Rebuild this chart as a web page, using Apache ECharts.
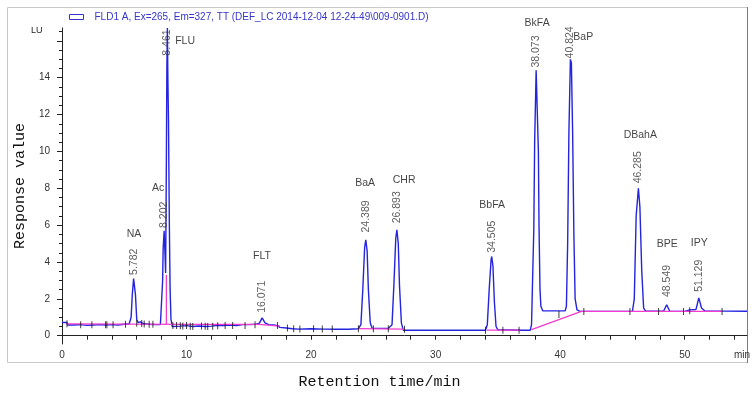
<!DOCTYPE html>
<html><head><meta charset="utf-8">
<script src="https://cdn.jsdelivr.net/npm/echarts@6/dist/echarts.min.js"></script>
<style>html,body{margin:0;padding:0;background:#fff}#c{width:754px;height:403px}</style>
</head><body><div id="c"></div><script>
// ---- chromatogram trace (time in min, response in LU) ----
const signalTime = [0,0.4,0.45,1.0,1.5,2.0,2.5,3.0,3.5,4.0,4.5,5.0,5.4,5.55,5.65,5.75,5.8,5.9,6.0,6.1,6.3,6.5,7.0,7.5,7.9,8.0,8.08,8.12,8.2,8.26,8.32,8.38,8.42,8.46,8.5,8.55,8.62,8.68,8.75,8.85,9.0,9.5,10,10.5,11,11.5,12,12.5,13,13.5,14,14.5,15,15.6,15.85,16.07,16.3,16.6,17.0,17.3,17.5,18.0,18.5,19,20,21,22,23,23.8,24.0,24.15,24.3,24.39,24.5,24.6,24.75,24.9,26.2,26.5,26.65,26.8,26.89,27.0,27.1,27.25,27.4,30,34.0,34.15,34.3,34.45,34.5,34.6,34.72,34.85,35.0,37.0,37.6,37.7,37.8,37.88,37.95,38.07,38.15,38.25,38.3,38.38,38.45,38.6,40.4,40.5,40.6,40.7,40.82,40.9,41.0,41.1,41.2,41.35,41.6,45.8,45.95,46.1,46.28,46.4,46.55,46.7,46.85,48.3,48.55,48.8,50.0,50.4,50.9,51.13,51.35,51.6,55];
const signalValue = [0.72,0.72,0.58,0.58,0.6,0.56,0.58,0.6,0.58,0.6,0.58,0.62,0.65,1.0,2.3,3.1,3.1,2.2,0.9,0.72,0.75,0.66,0.62,0.6,0.6,0.65,3.0,4.7,5.7,4.6,3.4,9.5,14.5,16.7,14.0,11.7,6.0,2.5,0.9,0.5,0.55,0.52,0.55,0.5,0.53,0.5,0.52,0.56,0.55,0.58,0.55,0.6,0.6,0.62,0.68,0.97,0.7,0.6,0.58,0.55,0.45,0.42,0.38,0.36,0.38,0.36,0.35,0.35,0.38,0.6,2.5,4.8,5.2,4.6,2.5,0.7,0.4,0.4,0.6,2.8,5.3,5.75,5.0,2.7,0.7,0.3,0.3,0.3,0.6,2.5,4.1,4.3,3.8,1.8,0.5,0.32,0.3,0.3,0.6,3.5,5.7,10.5,14.4,14.3,10.0,6.0,2.5,1.6,1.35,1.35,1.6,5.0,11.0,15.0,14.8,11.0,5.5,2.0,1.4,1.32,1.32,2.0,6.5,8.0,7.0,3.5,1.5,1.35,1.33,1.68,1.33,1.32,1.4,1.42,2.05,1.5,1.35,1.33];
// ---- integration baseline (null = gap) ----
const baselineTime = [0.35,5.0,10.0,15.8,17.5,null,8.38,8.38,null,23.8,27.5,null,34.1,36.8,null,37.7,41.7,53.0];
const baselineValue = [0.64,0.63,0.62,0.62,0.52,null,0.62,3.3,null,0.38,0.36,null,0.3,0.3,null,0.33,1.32,1.32];
// ---- integration event marks ----
const eventTimes = [0.4,1.5,2.4,3.5,3.6,4.1,5.1,6.0,6.4,6.6,7.0,7.3,8.9,9.2,9.5,9.7,10.0,10.3,10.5,11.2,11.5,11.7,12.1,12.5,13.1,13.7,14.7,15.5,17.3,18.1,18.6,19.1,20.2,20.9,21.7,23.8,25.0,26.2,27.5,34.0,35.4,36.7,39.9,41.9,45.6,47.9,49.9,50.4,53.0];
const eventLevels = [0.65,0.6,0.6,0.6,0.6,0.6,0.62,0.68,0.66,0.64,0.62,0.62,0.55,0.55,0.54,0.53,0.55,0.52,0.5,0.53,0.52,0.5,0.52,0.54,0.55,0.56,0.56,0.6,0.55,0.42,0.38,0.37,0.38,0.37,0.36,0.38,0.38,0.38,0.35,0.3,0.3,0.3,1.15,1.32,1.32,1.32,1.32,1.35,1.32];
// ---- peaks ----
const peakNames = ['NA','Ac','FLU','FLT','BaA','CHR','BbFA','BkFA','BaP','DBahA','BPE','IPY'];
const peakTimes = [5.782,8.202,8.461,16.071,24.389,26.893,34.505,38.073,40.824,46.285,48.549,51.129];
const rtLabelLevel = [3.3,5.85,15.2,1.24,5.6,6.1,4.5,14.55,15.05,8.27,2.1,2.38];
const nameTimes = [5.78,7.71,9.88,16.06,24.34,27.47,34.54,38.15,41.85,46.43,48.59,51.16];
const nameLevels = [5.5,8.0,16.0,4.32,8.27,8.43,7.08,16.97,16.2,10.86,4.97,5.03];
// ---- axes ----
const xLabelValues = [0,10,20,30,40,50,54.6];
const xTickValues = [0,2,4,6,8,10,12,14,16,18,20,22,24,26,28,30,32,34,36,38,40,42,44,46,48,50,52,54];
const yLabelValues = [0,2,4,6,8,10,12,14];
const yMajorTicks = [0,2,4,6,8,10,12,14,16];
const yMinorTicks = [0,0.5,1,1.5,2,2.5,3,3.5,4,4.5,5,5.5,6,6.5,7,7.5,8,8.5,9,9.5,10,10.5,11,11.5,12,12.5,13,13.5,14,14.5,15,15.5,16,16.5];
const legendText = 'FLD1 A, Ex=265, Em=327, TT (DEF_LC 2014-12-04 12-24-49\\009-0901.D)';

const BLUE = '#2424e0', PINK = '#f23bd0';
const zip = (a, b) => a.map((v, i) => [v, b[i]]);
const chart = echarts.init(document.getElementById('c'));
chart.setOption({
  animation: false,
  backgroundColor: '#fff',
  textStyle: {fontFamily: 'Liberation Sans, Arial, sans-serif'},
  grid: {left: 62, right: 7, top: 28, bottom: 59},
  legend: {
    data: [legendText], left: 64, top: 7, icon: 'rect', itemWidth: 14, itemHeight: 5,
    itemStyle: {color: '#fff', borderColor: '#3535cc', borderWidth: 1},
    textStyle: {color: '#3535cc', fontSize: 10, padding: [0, 0, 0, 6]}
  },
  xAxis: {
    type: 'value', min: 0, max: 55,
    name: 'Retention time/min', nameLocation: 'middle', nameGap: 31,
    nameTextStyle: {fontFamily: 'Liberation Mono, monospace', fontSize: 15, color: '#111', padding: [0, 50, 0, 0]},
    axisLine: {lineStyle: {color: '#222', width: 1}},
    axisTick: {customValues: xTickValues, length: 4, lineStyle: {color: '#222'}},
    axisLabel: {customValues: xLabelValues, margin: 6, fontSize: 10, color: '#333',
      formatter: v => v > 54 ? 'min' : String(v)},
    splitLine: {show: false}
  },
  yAxis: [{
    type: 'value', min: -0.45, max: 16.7,
    name: 'Response value', nameLocation: 'middle', nameGap: 25, nameRotate: 90,
    nameTextStyle: {fontFamily: 'Liberation Mono, monospace', fontSize: 15, color: '#111'},
    axisLine: {show: true, lineStyle: {color: '#222'}},
    axisTick: {customValues: yMajorTicks, length: 5, lineStyle: {color: '#222'}},
    axisLabel: {customValues: yLabelValues, margin: 12, fontSize: 10, color: '#333'},
    splitLine: {show: false}
  }, {
    type: 'value', min: -0.45, max: 16.7, position: 'left',
    axisLine: {show: false},
    axisTick: {customValues: yMinorTicks, length: 3, lineStyle: {color: '#222'}},
    axisLabel: {show: false}, splitLine: {show: false}
  }],
  graphic: [
    {type: 'rect', shape: {x: 7.5, y: 7.5, width: 740, height: 355}, style: {fill: 'none', stroke: '#c8c8c8', lineWidth: 1}, silent: true, z: -1},
    {type: 'line', shape: {x1: 747.5, y1: 7, x2: 747.5, y2: 363}, style: {stroke: '#7a7a7a', lineWidth: 1}, silent: true},
    {type: 'text', left: 31, top: 26, style: {text: 'LU', fontSize: 9, fill: '#222', fontFamily: 'Liberation Sans, Arial'}}
  ],
  series: [
    {name: legendText, type: 'line', data: zip(signalTime, signalValue), showSymbol: false,
      lineStyle: {color: BLUE, width: 1.4}, itemStyle: {color: BLUE}, clip: false, z: 2},
    {name: 'baseline', type: 'line', data: zip(baselineTime, baselineValue), showSymbol: false, connectNulls: false,
      lineStyle: {color: PINK, width: 1.3}, itemStyle: {color: PINK}, z: 3},
    {name: 'events', type: 'scatter', data: zip(eventTimes, eventLevels), symbol: 'rect', symbolSize: [1, 7],
      itemStyle: {color: '#111'}, z: 4},
    {name: 'rt', type: 'scatter', data: zip(peakTimes, rtLabelLevel), symbolSize: 0, clip: false, z: 5,
      label: {show: true, position: 'top', distance: 0, rotate: 90, align: 'left', verticalAlign: 'middle',
        fontSize: 10.5, color: '#333', formatter: p => peakTimes[p.dataIndex].toFixed(3)}},
    {name: 'names', type: 'scatter', data: zip(nameTimes, nameLevels), symbolSize: 0, clip: false, z: 5,
      label: {show: true, position: 'inside', fontSize: 10.5, color: '#111',
        formatter: p => peakNames[p.dataIndex]}}
  ]
});
</script></body></html>
